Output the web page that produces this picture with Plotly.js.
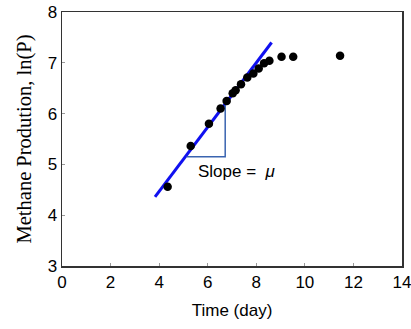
<!DOCTYPE html>
<html><head><meta charset="utf-8">
<script src="https://cdn.plot.ly/plotly-3.0.1.min.js"></script>
<style>html,body{margin:0;padding:0;background:#fff;}#chart{width:411px;height:329px;}</style>
</head><body><div id="chart"></div>
<script>
const timeDays = [4.35, 5.30, 6.05, 6.53, 6.78, 7.03, 7.15, 7.37, 7.63, 7.88, 8.10, 8.32, 8.54, 9.04, 9.52, 11.45];
const lnP = [4.56, 5.36, 5.80, 6.10, 6.25, 6.40, 6.46, 6.58, 6.71, 6.79, 6.89, 6.99, 7.04, 7.12, 7.12, 7.14];
const fitX = [3.83, 8.63];
const fitY = [4.36, 7.40];
const triX = [5.13, 6.72, 6.72];
const triY = [5.15, 5.15, 6.17];
const xTicks = [0, 2, 4, 6, 8, 10, 12, 14];
const yTicks = [3, 4, 5, 6, 7, 8];

const traces = [
  {x: fitX, y: fitY, mode: 'lines', line: {color: '#1010f0', width: 3}, hoverinfo: 'skip'},
  {x: triX, y: triY, mode: 'lines', line: {color: '#3a64b0', width: 1.5}, hoverinfo: 'skip'},
  {x: timeDays, y: lnP, mode: 'markers', marker: {color: '#000', size: 8.5}}
];
const layout = {
  width: 411, height: 329,
  margin: {l: 62, r: 9, t: 12, b: 63},
  paper_bgcolor: '#fff', plot_bgcolor: '#fff',
  showlegend: false,
  font: {family: 'Liberation Sans, Arial, sans-serif', color: '#000', size: 17},
  xaxis: {range: [0, 14], tickvals: xTicks, ticks: 'inside', ticklen: 3, tickcolor: '#999', tickwidth: 1,
    showline: true, linecolor: '#333', linewidth: 1.5, mirror: true, showgrid: false, zeroline: false,
    ticklabeloverflow: 'allow', automargin: false,
    tickfont: {size: 17}, title: {text: 'Time (day)', font: {size: 17}, standoff: 13}},
  yaxis: {range: [3, 8], tickvals: yTicks, ticks: 'inside', ticklen: 3, tickcolor: '#999', tickwidth: 1,
    showline: true, linecolor: '#333', linewidth: 1.5, mirror: true, showgrid: false, zeroline: false,
    ticklabeloverflow: 'allow', automargin: false,
    tickfont: {size: 17},
    title: {text: 'Methane Prodution, ln(P)', font: {family: 'Liberation Serif, Times New Roman, serif', size: 20.5}, standoff: 10}},
  annotations: [{x: 7.19, y: 4.86, xref: 'x', yref: 'y', showarrow: false,
    text: 'Slope =&nbsp; <i>μ</i>', font: {size: 17, color: '#000'}}]
};
Plotly.newPlot('chart', traces, layout, {staticPlot: true, displayModeBar: false});
</script></body></html>
